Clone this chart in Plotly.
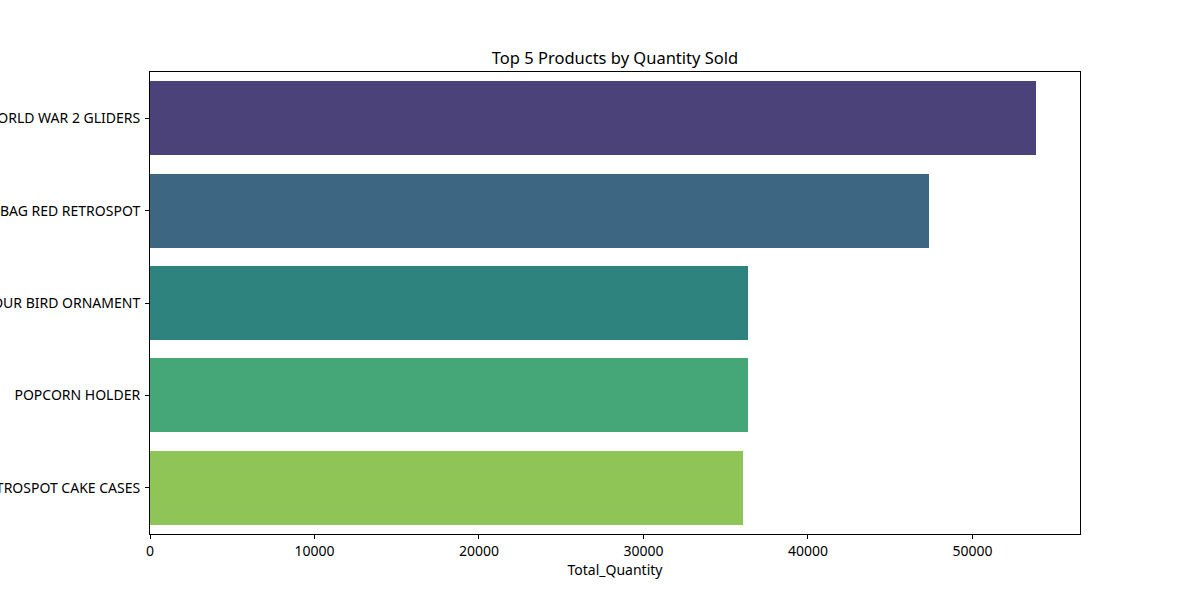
import plotly.graph_objects as go

products = [
    "WORLD WAR 2 GLIDERS",
    "JUMBO BAG RED RETROSPOT",
    "ASSORTED COLOUR BIRD ORNAMENT",
    "POPCORN HOLDER",
    "PACK OF 72 RETROSPOT CAKE CASES",
]
total_quantity = [53847, 47363, 36381, 36334, 36039]
bar_colors = ["#4b427a", "#3d6682", "#2f837f", "#45a778", "#8fc556"]
x_ticks = [0, 10000, 20000, 30000, 40000, 50000]

FONT = "Noto Sans, Open Sans, DejaVu Sans, sans-serif"

fig = go.Figure(go.Bar(
    x=total_quantity,
    y=products,
    orientation='h',
    width=0.8,
    marker=dict(color=bar_colors, line=dict(width=0)),
))

fig.update_layout(
    width=1200, height=600,
    paper_bgcolor='white', plot_bgcolor='white',
    font=dict(family=FONT, size=14, color='black'),
    title=dict(text="Top 5 Products by Quantity Sold", x=0.5, xanchor='center',
               xref='paper', y=1 - 58 / 600, yref='container', yanchor='middle',
               font=dict(size=16.5, color='black')),
    margin=dict(l=150, r=120, t=72, b=66, pad=0),
    showlegend=False,
    bargap=0,
)

fig.update_xaxes(
    range=[0, max(total_quantity) * 1.05],
    tickvals=x_ticks, ticktext=[str(v) for v in x_ticks],
    ticks='outside', ticklen=4, tickcolor='black', tickwidth=1,
    showline=True, linecolor='black', linewidth=1, mirror=True,
    showgrid=False, zeroline=False,
    title=dict(text="Total_Quantity", standoff=6, font=dict(size=14)),
    automargin=False,
)
fig.update_yaxes(
    range=[len(products) - 0.5, -0.5],
    ticks='outside', ticklen=4, tickcolor='black', tickwidth=1,
    showline=True, linecolor='black', linewidth=1, mirror=True,
    showgrid=False, zeroline=False,
    ticklabelstandoff=2,
    automargin=False,
)

# page body has a default 8px margin; drop it so the figure sits at the window corner
fig.write_html("out.html", config={'displayModeBar': False},
               post_script="document.body.style.margin='0px';")
